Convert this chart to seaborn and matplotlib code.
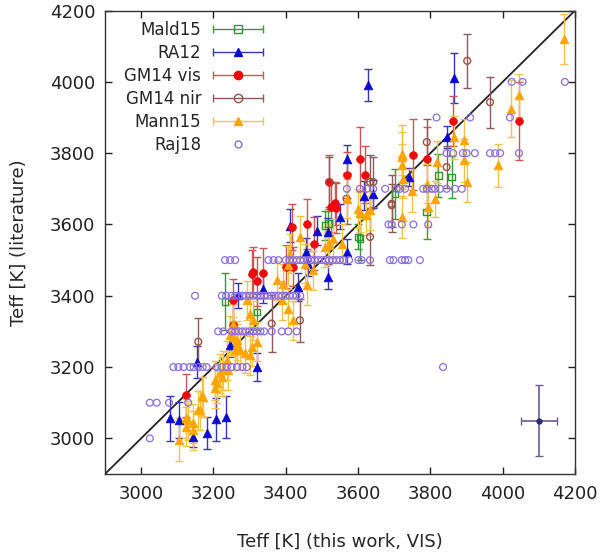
import matplotlib
matplotlib.use("Agg")
import matplotlib.pyplot as plt
from matplotlib.lines import Line2D
from matplotlib.container import ErrorbarContainer
from matplotlib.legend_handler import HandlerErrorbar
import numpy as np
import pandas as pd
import seaborn as sns

# =====================================================
# DATA  (Teff this work vs literature)
# =====================================================

mald15_x = [3232, 3320, 3518, 3601, 3702, 3605, 3790, 3822, 3859, 3509]
mald15_y = [3384, 3355, 3602, 3565, 3686, 3561, 3635, 3738, 3733, 3597]
mald15_err = [80, 50, 35, 35, 70, 60, 75, 60, 60, 40]

ra12_x = [3628, 3866, 3845, 3741, 3568, 3640, 3617, 3550, 3518, 3568, 3456, 3518, 3486, 3462,
          3338, 3269, 3412, 3435, 3155, 3080, 3105, 3181, 3207, 3235, 3142, 3320, 3246]
ra12_y = [3990, 4010, 3845, 3733, 3784, 3686, 3681, 3621, 3579, 3523, 3523, 3453, 3583, 3490,
          3420, 3401, 3597, 3425, 3214, 3056, 3051, 3016, 3053, 3060, 3005, 3200, 3262]
ra12_err = [45, 70, 30, 25, 40, 40, 40, 35, 40, 35, 40, 35, 40, 35,
            40, 35, 45, 40, 45, 63, 50, 45, 60, 60, 30, 40, 35]

gm14vis_x = [3863, 4046, 3753, 3790, 3568, 3605, 3619, 3525, 3540, 3460, 3478, 3520,
             3310, 3338, 3320, 3306, 3402, 3255, 3124, 3255, 3421, 3536, 3416]
gm14vis_y = [3891, 3891, 3796, 3784, 3739, 3784, 3739, 3649, 3647, 3602, 3546, 3719,
             3467, 3465, 3440, 3462, 3481, 3387, 3121, 3317, 3481, 3659, 3593]
gm14vis_err = [70, 110, 100, 90, 65, 90, 80, 70, 70, 70, 75, 75,
               70, 70, 70, 65, 60, 60, 60, 60, 55, 60, 65]

gm14nir_x = [3902, 3965, 3845, 3790, 3693, 3633, 3633, 3158, 3361, 3439, 3520, 3642, 3693, 3568]
gm14nir_y = [4059, 3943, 3761, 3831, 3658, 3719, 3565, 3271, 3322, 3331, 3719, 3719, 3654, 3672]
gm14nir_err = [75, 72, 60, 65, 80, 75, 80, 67, 80, 60, 70, 70, 60, 70]

mann15_x = [4170, 4046, 4022, 3988, 3866, 3893, 3893, 3900, 3817, 3813, 3790, 3794, 3722,
            3748, 3721, 3633, 3605, 3568, 3520, 3555, 3439, 3453, 3476, 3518, 3532, 3623,
            3601, 3721, 3721, 3725, 3412, 3407, 3375, 3393, 3389, 3407, 3421, 3458, 3509,
            3292, 3301, 3310, 3255, 3246, 3264, 3273, 3306, 3301, 3320, 3204, 3223, 3241,
            3204, 3163, 3172, 3144, 3124, 3105, 3123, 3130, 3142, 3158, 3167, 3209, 3218,
            3227, 3237, 3260, 3264, 3255, 3287]
mann15_y = [4120, 3962, 3924, 3766, 3845, 3836, 3780, 3719, 3775, 3672, 3714, 3649, 3789,
            3695, 3621, 3640, 3635, 3672, 3546, 3546, 3565, 3490, 3471, 3541, 3560, 3626,
            3644, 3798, 3766, 3728, 3518, 3485, 3443, 3434, 3387, 3364, 3331, 3429, 3537,
            3387, 3350, 3331, 3322, 3289, 3275, 3247, 3257, 3233, 3271, 3163, 3173, 3191,
            3140, 3079, 3116, 3042, 3056, 2996, 3033, 3051, 3023, 3079, 3118, 3154, 3182,
            3191, 3219, 3247, 3266, 3285, 3238]
mann15_err = [70, 60, 80, 60, 60, 60, 60, 56, 60, 50, 55, 55, 90,
              60, 58, 55, 55, 55, 55, 55, 60, 55, 55, 55, 55, 55,
              55, 60, 60, 55, 55, 55, 55, 55, 55, 55, 55, 55, 55,
              55, 55, 55, 55, 55, 55, 55, 55, 55, 55, 55, 55, 55,
              55, 55, 55, 55, 55, 60, 55, 55, 55, 55, 55, 55, 55,
              55, 55, 55, 55, 55, 55]

raj18_x = [4025, 4055, 4172,
           3817, 3910, 4020,
           3845, 3863, 3890, 3900, 3923, 3965, 3979, 3993, 4045,
           3569, 3605, 3624, 3642, 3675, 3707, 3716, 3730, 3780, 3790, 3804, 3813, 3827, 3845, 3868, 3887,
           3684, 3693, 3721, 3753, 3794,
           3232, 3246, 3260, 3352, 3366, 3380, 3400, 3410, 3420, 3430, 3440, 3450, 3460, 3470, 3480,
           3490, 3500, 3510, 3520, 3530, 3540, 3550, 3560, 3575, 3601, 3610, 3633, 3688, 3698, 3721,
           3730, 3739, 3771,
           3149, 3223, 3235, 3250, 3260, 3270, 3280, 3290, 3300, 3310, 3320, 3330, 3340, 3350, 3360,
           3370, 3380, 3390, 3400, 3410, 3420, 3430, 3440,
           3213, 3227, 3250, 3260, 3270, 3280, 3290, 3300, 3310, 3320, 3330, 3340, 3361, 3389, 3407, 3430,
           3089, 3103, 3117, 3135, 3145, 3158, 3170, 3181, 3209, 3223, 3237, 3250, 3265, 3280, 3292, 3835,
           3024, 3043, 3077, 3130,
           3024]
raj18_y = [4000, 4000, 4000,
           3900, 3900, 3900,
           3800, 3800, 3800, 3800, 3800, 3800, 3800, 3800, 3800,
           3700, 3700, 3700, 3700, 3700, 3700, 3700, 3700, 3700, 3700, 3700, 3700, 3700, 3700, 3700, 3700,
           3600, 3600, 3600, 3600, 3600,
           3500, 3500, 3500, 3500, 3500, 3500, 3500, 3500, 3500, 3500, 3500, 3500, 3500, 3500, 3500,
           3500, 3500, 3500, 3500, 3500, 3500, 3500, 3500, 3500, 3500, 3500, 3500, 3500, 3500, 3500,
           3500, 3500, 3500,
           3400, 3400, 3400, 3400, 3400, 3400, 3400, 3400, 3400, 3400, 3400, 3400, 3400, 3400, 3400,
           3400, 3400, 3400, 3400, 3400, 3400, 3400, 3400,
           3300, 3300, 3300, 3300, 3300, 3300, 3300, 3300, 3300, 3300, 3300, 3300, 3300, 3300, 3300, 3300,
           3200, 3200, 3200, 3200, 3200, 3200, 3200, 3200, 3200, 3200, 3200, 3200, 3200, 3200, 3200, 3200,
           3100, 3100, 3100, 3100,
           3000]

# typical uncertainty shown in the lower right corner
typ_x, typ_y = 4100, 3050
typ_xerr, typ_yerr = 50, 100

# =====================================================
# FIGURE
# =====================================================

sns.set_theme(style="ticks")
plt.rcParams["font.family"] = ["DejaVu Sans"]

fig = plt.figure(figsize=(6.06, 5.56), dpi=100)
ax = fig.add_axes([0.1733, 0.1475, 0.7755, 0.8335])

# identity line
ax.plot([2900, 4200], [2900, 4200], color="#222222", lw=1.3, zorder=1)

series = [
    ("Mald15", mald15_x, mald15_y, mald15_err, "s", "#2e9a2e", "#3a9a3a", False, 22),
    ("RA12", ra12_x, ra12_y, ra12_err, "^", "#0a0ad0", "#3535c0", True, 38),
    ("GM14 vis", gm14vis_x, gm14vis_y, gm14vis_err, "o", "#ee0a0a", "#cc5555", True, 30),
    ("GM14 nir", gm14nir_x, gm14nir_y, gm14nir_err, "o", "#9a5040", "#8e5a5a", False, 24),
    ("Mann15", mann15_x, mann15_y, mann15_err, "^", "#ffa500", "#f2c34a", True, 38),
]

handles = []
for name, xs, ys, es, mk, mcol, ecol, filled, size in series:
    df = pd.DataFrame({"x": xs, "y": ys, "e": es})
    ax.errorbar(df["x"], df["y"], yerr=df["e"], fmt="none",
                ecolor=ecol, elinewidth=1.0, capsize=3, capthick=1.0, zorder=2)
    if filled:
        sns.scatterplot(data=df, x="x", y="y", ax=ax, marker=mk, s=size,
                        color=mcol, edgecolor=mcol, linewidth=0.6, zorder=3)
    else:
        sns.scatterplot(data=df, x="x", y="y", ax=ax, marker=mk, s=size,
                        color=mcol, facecolors="none", edgecolor=mcol,
                        linewidth=1.0, zorder=3)
    h = ax.errorbar([np.nan], [np.nan], xerr=[1], fmt=mk, color=ecol,
                    mfc=mcol if filled else "none", mec=mcol, ms=6,
                    elinewidth=1.0, capsize=3, label=name)
    handles.append(h)

raj = pd.DataFrame({"x": raj18_x, "y": raj18_y})
sns.scatterplot(data=raj, x="x", y="y", ax=ax, marker="o", s=24,
                color="#8a6ee0", facecolors="none", edgecolor="#8a6ee0",
                linewidth=0.9, zorder=4)
handles.append(Line2D([], [], ls="none", marker="o", mfc="none",
                      mec="#8a6ee0", ms=5, label="Raj18"))

# typical error cross
ax.errorbar([typ_x], [typ_y], xerr=[typ_xerr], yerr=[typ_yerr], fmt="o",
            color="#6e5c8e", mfc="#2a2a70", mec="#2a2a70", ms=3.5,
            elinewidth=1.2, capsize=3, zorder=5)

ax.set_xlim(2900, 4200)
ax.set_ylim(2900, 4200)
ax.set_xticks([3000, 3200, 3400, 3600, 3800, 4000, 4200])
ax.set_yticks([3000, 3200, 3400, 3600, 3800, 4000, 4200])
ax.tick_params(direction="in", top=True, right=True, length=5, width=1,
               labelsize=13, colors="#222222")
ax.tick_params(axis="x", pad=8)
ax.tick_params(axis="y", pad=7)
for sp in ax.spines.values():
    sp.set_color("#333333")
    sp.set_linewidth(1.0)

ax.set_xlabel("Teff [K] (this work, VIS)", fontsize=13, labelpad=21)
ax.set_ylabel("Teff [K] (literature)", fontsize=13, labelpad=16)

leg = ax.legend(handles=handles, loc="upper left", bbox_to_anchor=(0.02, 1.0),
                frameon=False, markerfirst=False, fontsize=12,
                handlelength=3.2, handletextpad=0.6, labelspacing=0.3,
                borderaxespad=0.2,
                handler_map={ErrorbarContainer: HandlerErrorbar(xerr_size=1.5)})

fig.savefig("out.png", dpi=100)
plt.close()
